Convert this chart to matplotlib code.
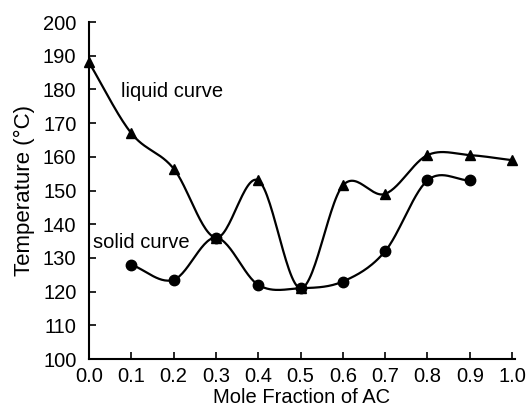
import numpy as np
import matplotlib
matplotlib.use("Agg")
import matplotlib.pyplot as plt

plt.rcParams['font.family'] = ['Liberation Sans', 'DejaVu Sans']

x_liquid = [0.0, 0.1, 0.2, 0.3, 0.4, 0.5, 0.6, 0.7, 0.8, 0.9, 1.0]
t_liquid = [188, 167, 156.5, 136, 153, 121, 151.5, 149, 160.5, 160.5, 159]
x_solid = [0.1, 0.2, 0.3, 0.4, 0.5, 0.6, 0.7, 0.8, 0.9]
t_solid = [128, 123.5, 136, 122, 121, 123, 132, 153, 153]
x_ticks = [0.0, 0.1, 0.2, 0.3, 0.4, 0.5, 0.6, 0.7, 0.8, 0.9, 1.0]
y_ticks = [100, 110, 120, 130, 140, 150, 160, 170, 180, 190, 200]


def smooth(xs, ys, n=30):
    # Catmull-Rom spline through the data points (like Excel's smoothed line)
    xs = np.asarray(xs, float)
    ys = np.asarray(ys, float)
    P = np.column_stack([xs, ys])
    P = np.vstack([P[0] - (P[1] - P[0]), P, P[-1] + (P[-1] - P[-2])])
    out = []
    t = np.linspace(0, 1, n)[:, None]
    for i in range(1, len(P) - 2):
        p0, p1, p2, p3 = P[i - 1], P[i], P[i + 1], P[i + 2]
        seg = 0.5 * ((2 * p1) + (-p0 + p2) * t + (2 * p0 - 5 * p1 + 4 * p2 - p3) * t ** 2
                     + (-p0 + 3 * p1 - 3 * p2 + p3) * t ** 3)
        out.append(seg)
    S = np.vstack(out)
    return S[:, 0], S[:, 1]


fig = plt.figure(figsize=(5.31, 4.12), dpi=100)
ax = fig.add_axes([0.1676, 0.1286, 0.8024, 0.818])

sx, sy = smooth(x_liquid, t_liquid)
ax.plot(sx, sy, color='black', lw=1.6, clip_on=False)
ax.plot(x_liquid, t_liquid, ls='none', marker='^', ms=7.5, color='black', clip_on=False)

sx, sy = smooth(x_solid, t_solid)
ax.plot(sx, sy, color='black', lw=1.6, clip_on=False)
ax.plot(x_solid, t_solid, ls='none', marker='o', ms=7.5, color='black', clip_on=False)

ax.set_xlim(0, 1.007)
ax.set_ylim(100, 200)
ax.set_xticks(x_ticks)
ax.set_xticklabels([f"{v:.1f}" for v in x_ticks])
ax.set_yticks(y_ticks)
for s in ['top', 'right']:
    ax.spines[s].set_visible(False)
for s in ['left', 'bottom']:
    ax.spines[s].set_linewidth(1.5)
ax.tick_params(direction='in', length=5, width=1.2, labelsize=14.5)
ax.tick_params(axis='y', pad=9)
ax.tick_params(axis='x', pad=6)

ax.text(0.075, 179.5, 'liquid curve', fontsize=14.5, ha='left', va='center')
ax.text(0.01, 134.5, 'solid curve', fontsize=14.5, ha='left', va='center')

ax.set_xlabel('Mole Fraction of AC', fontsize=14.5, labelpad=1)
ax.set_ylabel('Temperature (°C)', fontsize=16, labelpad=6)

fig.savefig('out.png', dpi=100)
